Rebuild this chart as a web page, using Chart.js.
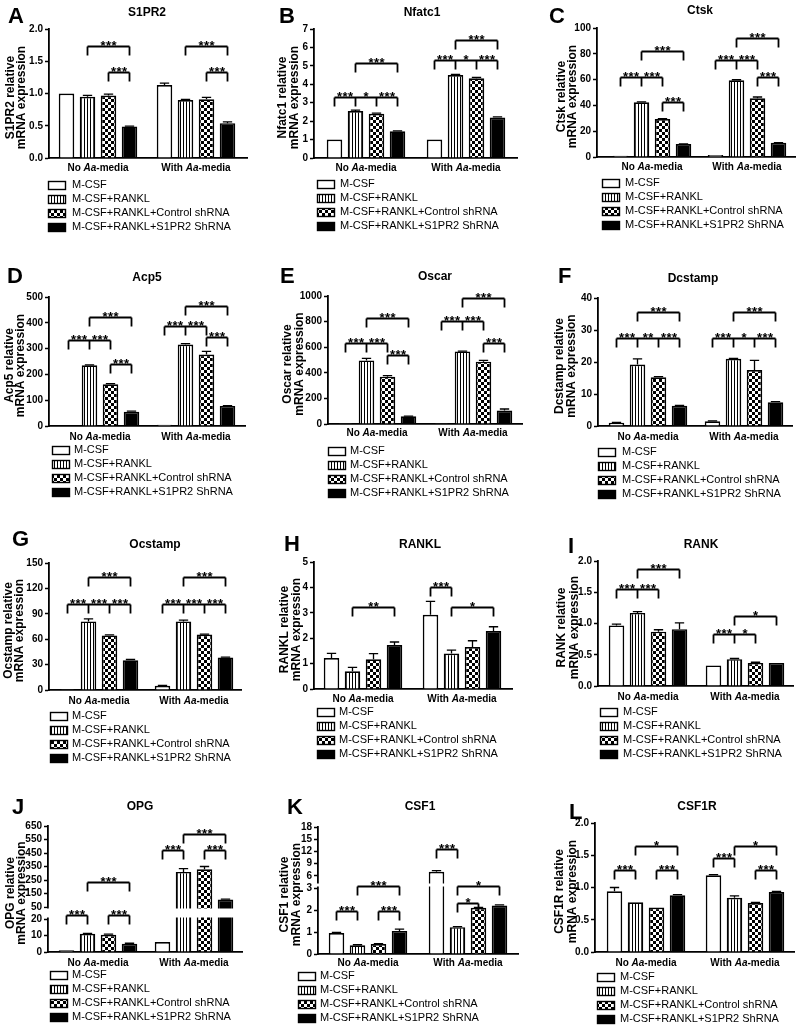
<!DOCTYPE html>
<html>
<head>
<meta charset="utf-8">
<script src="https://cdn.jsdelivr.net/npm/chart.js@4"></script>
<style>
  body { margin: 0; background: #fff; width: 798px; height: 1025px; position: relative; overflow: hidden; }
  canvas { position: absolute; }
</style>
</head>
<body>
<script>
// ---------- shared labels ----------
const groups = ['No Aa-media', 'With Aa-media'];
const treatments = ['M-CSF', 'M-CSF+RANKL', 'M-CSF+RANKL+Control shRNA', 'M-CSF+RANKL+S1PR2 ShRNA'];

// ---------- values: one row per treatment, [No Aa-media, With Aa-media] ----------
// significance rows: [group, bars joined, bracket level, stars]
const s1pr2Ticks = ['0.0', '0.5', '1.0', '1.5', '2.0'];
const s1pr2Mean = [[1.00, 1.13], [0.95, 0.90], [0.97, 0.91], [0.49, 0.54]];
const s1pr2Err = [[0, 0.03], [0.02, 0.01], [0.02, 0.03], [0.005, 0.02]];
const s1pr2Sig = [[0, [1, 3], 1.73, ['***']], [0, [2, 3], 1.34, ['***']], [1, [1, 3], 1.73, ['***']], [1, [2, 3], 1.34, ['***']]];

const nfatc1Ticks = ['0', '1', '2', '3', '4', '5', '6', '7'];
const nfatc1Mean = [[1.0, 1.0], [2.55, 4.50], [2.40, 4.33], [1.45, 2.20]];
const nfatc1Err = [[0, 0], [0.05, 0.04], [0.04, 0.05], [0.02, 0.03]];
const nfatc1Sig = [[0, [0, 1, 2, 3], 3.33, ['***', '*', '***']], [0, [1, 3], 5.14, ['***']], [1, [0, 1, 2, 3], 5.32, ['***', '*', '***']], [1, [1, 3], 6.4, ['***']]];

const ctskTicks = ['0', '20', '40', '60', '80', '100'];
const ctskMean = [[1.0, 1.5], [42.5, 59.5], [29.5, 45.5], [10, 11]];
const ctskErr = [[0, 0], [0.3, 0.4], [0.3, 1.0], [0.2, 0.2]];
const ctskSig = [[0, [0, 1, 2], 62, ['***', '***']], [0, [2, 3], 43, ['***']], [0, [1, 3], 82, ['***']], [1, [0, 1, 2], 75, ['***', '***']], [1, [2, 3], 62, ['***']], [1, [1, 3], 92, ['***']]];

const acp5Ticks = ['0', '100', '200', '300', '400', '500'];
const acp5Mean = [[2, 5], [235, 316], [162, 277], [55, 78]];
const acp5Err = [[0, 0], [2, 3], [2, 12], [3, 1]];
const acp5Sig = [[0, [0, 1, 2], 333, ['***', '***']], [0, [2, 3], 240, ['***']], [0, [1, 3], 424, ['***']], [1, [0, 1, 2], 388, ['***', '***']], [1, [2, 3], 344, ['***']], [1, [1, 3], 465, ['***']]];

const oscarTicks = ['0', '200', '400', '600', '800', '1000'];
const oscarMean = [[1, 1], [497, 567], [370, 487], [60, 105]];
const oscarErr = [[0, 0], [15, 3], [8, 10], [2, 12]];
const oscarSig = [[0, [0, 1, 2], 630, ['***', '***']], [0, [2, 3], 540, ['***']], [0, [1, 3], 826, ['***']], [1, [0, 1, 2], 807, ['***', '***']], [1, [2, 3], 630, ['***']], [1, [1, 3], 982, ['***']]];

const dcstampTicks = ['0', '10', '20', '30', '40'];
const dcstampMean = [[1.0, 1.5], [19.2, 21.0], [15.2, 17.5], [6.3, 7.4]];
const dcstampErr = [[0.1, 0.1], [1.8, 0.1], [0.2, 3.0], [0.1, 0.2]];
const dcstampSig = [[0, [0, 1, 2, 3], 27.4, ['***', '**', '***']], [0, [1, 3], 35.7, ['***']], [1, [0, 1, 2, 3], 27.4, ['***', '*', '***']], [1, [1, 3], 35.7, ['***']]];

const ocstampTicks = ['0', '30', '60', '90', '120', '150'];
const ocstampMean = [[1.0, 5], [81, 81], [64.5, 65.5], [35, 38.5]];
const ocstampErr = [[0, 0.3], [3, 1.5], [0.5, 0.5], [1, 0.3]];
const ocstampSig = [[0, [0, 1, 2, 3], 101, ['***', '***', '***']], [0, [1, 3], 134, ['***']], [1, [0, 1, 2, 3], 101, ['***', '***', '***']], [1, [1, 3], 134, ['***']]];

const ranklTicks = ['0', '1', '2', '3', '4', '5'];
const ranklMean = [[1.22, 2.92], [0.70, 1.40], [1.17, 1.65], [1.73, 2.28]];
const ranklErr = [[0.18, 0.53], [0.15, 0.13], [0.22, 0.25], [0.12, 0.17]];
const ranklSig = [[0, [1, 3], 3.24, ['**']], [1, [0, 1], 4.03, ['***']], [1, [1, 3], 3.24, ['*']]];

const rankTicks = ['0.0', '0.5', '1.0', '1.5', '2.0'];
const rankMean = [[0.97, 0.33], [1.17, 0.43], [0.87, 0.37], [0.91, 0.37]];
const rankErr = [[0.02, 0], [0.02, 0.01], [0.03, 0.01], [0.1, 0]];
const rankSig = [[0, [0, 1, 2], 1.55, ['***', '***']], [0, [1, 3], 1.87, ['***']], [1, [0, 1, 2], 0.84, ['***', '*']], [1, [1, 3], 1.12, ['*']]];

const opgTicks = ['0', '10', '20', '50', '150', '250', '350', '450', '550', '650'];
const opgMean = [[1, 6], [11, 310], [10.5, 330], [5, 105]];
const opgErr = [[0, 0], [0.3, 25], [0.3, 20], [0.3, 3]];
const opgSig = [[0, [0, 1], 30, ['***']], [0, [2, 3], 30, ['***']], [0, [1, 3], 235, ['***']], [1, [0, 1], 472, ['***']], [1, [2, 3], 472, ['***']], [1, [1, 3], 590, ['***']]];

const csf1Ticks = ['0', '1', '2', '3', '6', '9', '12', '15', '18'];
const csf1Mean = [[0.95, 7.0], [0.40, 1.22], [0.45, 2.1], [1.05, 2.2]];
const csf1Err = [[0.03, 0.3], [0.02, 0.02], [0.02, 0.02], [0.08, 0.03]];
const csf1Sig = [[0, [0, 1], 1.97, ['***']], [0, [2, 3], 1.97, ['***']], [0, [1, 3], 3.6, ['***']], [1, [0, 1], 12.7, ['***']], [1, [1, 2], 2.33, ['*']], [1, [1, 3], 3.6, ['*']]];

const csf1rTicks = ['0.0', '0.5', '1.0', '1.5', '2.0'];
const csf1rMean = [[0.94, 1.19], [0.77, 0.84], [0.69, 0.76], [0.88, 0.93]];
const csf1rErr = [[0.06, 0.01], [0, 0.03], [0, 0.01], [0.01, 0.01]];
const csf1rSig = [[0, [0, 1], 1.27, ['***']], [0, [2, 3], 1.27, ['***']], [0, [1, 3], 1.65, ['*']], [1, [0, 1], 1.45, ['***']], [1, [2, 3], 1.27, ['***']], [1, [1, 3], 1.65, ['*']]];

// ---------- panel layout (pixels inside each panel) ----------
const panels = [
  { letter: 'A', gene: 'S1PR2', ticks: s1pr2Ticks, mean: s1pr2Mean, err: s1pr2Err, sig: s1pr2Sig,
    x0: 0, y0: 0, T: 29, B: 158, L: 49, c0: 98, c1: 196, R: 247, catY: 168, legY: 185, boxX: 48, textX: 72,
    titleX: 147, titleY: 13, letterX: 8, letterY: 17, yt: [11, 22] },
  { letter: 'B', gene: 'Nfatc1', ticks: nfatc1Ticks, mean: nfatc1Mean, err: nfatc1Err, sig: nfatc1Sig,
    x0: 265, y0: 0, T: 29, B: 158, L: 49, c0: 101, c1: 201, R: 252, catY: 168, legY: 184, boxX: 52, textX: 75,
    titleX: 157, titleY: 13, letterX: 14, letterY: 17, yt: [18, 30] },
  { letter: 'C', gene: 'Ctsk', ticks: ctskTicks, mean: ctskMean, err: ctskErr, sig: ctskSig,
    x0: 530, y0: 0, T: 28, B: 157, L: 67, c0: 122, c1: 217, R: 265, catY: 167, legY: 183, boxX: 72, textX: 95,
    titleX: 170, titleY: 11, letterX: 19, letterY: 17, yt: [32, 43] },
  { letter: 'D', gene: 'Acp5', ticks: acp5Ticks, mean: acp5Mean, err: acp5Err, sig: acp5Sig,
    x0: 0, y0: 250, T: 47, B: 176, L: 49, c0: 100, c1: 196, R: 245, catY: 187, legY: 200, boxX: 52, textX: 74,
    titleX: 147, titleY: 28, letterX: 7, letterY: 27, yt: [10, 21] },
  { letter: 'E', gene: 'Oscar', ticks: oscarTicks, mean: oscarMean, err: oscarErr, sig: oscarSig,
    x0: 265, y0: 250, T: 46, B: 174, L: 63, c0: 112, c1: 208, R: 257, catY: 183, legY: 201, boxX: 63, textX: 85,
    titleX: 170, titleY: 27, letterX: 15, letterY: 27, yt: [23, 35] },
  { letter: 'F', gene: 'Dcstamp', ticks: dcstampTicks, mean: dcstampMean, err: dcstampErr, sig: dcstampSig,
    x0: 530, y0: 250, T: 48, B: 176, L: 68, c0: 118, c1: 214, R: 262, catY: 187, legY: 202, boxX: 68, textX: 92,
    titleX: 163, titleY: 29, letterX: 28, letterY: 27, yt: [30, 42] },
  { letter: 'G', gene: 'Ocstamp', ticks: ocstampTicks, mean: ocstampMean, err: ocstampErr, sig: ocstampSig,
    x0: 0, y0: 510, T: 53, B: 180, L: 49, c0: 99, c1: 194, R: 241, catY: 191, legY: 206, boxX: 50, textX: 72,
    titleX: 155, titleY: 35, letterX: 12, letterY: 30, yt: [9, 20] },
  { letter: 'H', gene: 'RANKL', ticks: ranklTicks, mean: ranklMean, err: ranklErr, sig: ranklSig,
    x0: 265, y0: 510, T: 52, B: 179, L: 49, c0: 98, c1: 197, R: 247, catY: 189, legY: 202, boxX: 52, textX: 74,
    titleX: 155, titleY: 35, letterX: 19, letterY: 35, yt: [20, 32] },
  { letter: 'I', gene: 'RANK', ticks: rankTicks, mean: rankMean, err: rankErr, sig: rankSig,
    x0: 530, y0: 510, T: 51, B: 176, L: 68, c0: 118, c1: 215, R: 263, catY: 187, legY: 202, boxX: 70, textX: 93,
    titleX: 171, titleY: 35, letterX: 38, letterY: 37, yt: [32, 45] },
  { letter: 'J', gene: 'OPG', ticks: opgTicks, mean: opgMean, err: opgErr, sig: opgSig,
    brk: { lowMax: 20, upMin: 50, lowPx: 149, upPx: 137 },
    x0: 0, y0: 770, T: 56, B: 182, L: 48, c0: 98, c1: 194, R: 242, catY: 193, legY: 205, boxX: 50, textX: 72,
    titleX: 140, titleY: 37, letterX: 12, letterY: 38, yt: [11, 22] },
  { letter: 'K', gene: 'CSF1', ticks: csf1Ticks, mean: csf1Mean, err: csf1Err, sig: csf1Sig,
    brk: { lowMax: 3, upMin: 4.5, lowPx: 118, upPx: 112 },
    x0: 265, y0: 770, T: 57, B: 184, L: 53, c0: 103, c1: 203, R: 253, catY: 193, legY: 206, boxX: 33, textX: 55,
    titleX: 155, titleY: 37, letterX: 22, letterY: 38, yt: [20, 32] },
  { letter: 'L', gene: 'CSF1R', ticks: csf1rTicks, mean: csf1rMean, err: csf1rErr, sig: csf1rSig,
    x0: 530, y0: 770, T: 53, B: 182, L: 65, c0: 116, c1: 215, R: 264, catY: 193, legY: 207, boxX: 67, textX: 90,
    titleX: 167, titleY: 37, letterX: 39, letterY: 43, yt: [30, 43] }
];

const FONT = '"Liberation Sans", Arial, sans-serif';

// y scale with a gap: lower segment [min, lowMax], upper segment [upMin, max]
class BrokenScale extends Chart.LinearScale {
  static id = 'broken';
  static defaults = Chart.LinearScale.defaults;
  fracs() {
    const b = this.options.brk;
    return [(b.B - b.lowPx) / b.full, (b.B - b.upPx) / b.full];
  }
  getPixelForValue(v) {
    const b = this.options.brk, [lowF, upF] = this.fracs();
    let f;
    if (v <= b.lowMax) f = (v - this.min) / (b.lowMax - this.min) * lowF;
    else if (v >= b.upMin) f = upF + (v - b.upMin) / (this.max - b.upMin) * (1 - upF);
    else f = lowF + (v - b.lowMax) / (b.upMin - b.lowMax) * (upF - lowF);
    return this.bottom - f * (this.bottom - this.top);
  }
  getValueForPixel(p) {
    const b = this.options.brk, [lowF, upF] = this.fracs();
    const f = (this.bottom - p) / (this.bottom - this.top);
    if (f <= lowF) return this.min + f / lowF * (b.lowMax - this.min);
    if (f >= upF) return b.upMin + (f - upF) / (1 - upF) * (this.max - b.upMin);
    return b.lowMax + (f - lowF) / (upF - lowF) * (b.upMin - b.lowMax);
  }
}
Chart.register(BrokenScale);

function makePatterns(ctx) {
  const st = document.createElement('canvas');
  st.width = 3; st.height = 3;
  let c = st.getContext('2d');
  c.fillStyle = '#fff'; c.fillRect(0, 0, 3, 3);
  c.fillStyle = '#000'; c.fillRect(0, 0, 1, 3);
  const ck = document.createElement('canvas');
  ck.width = 6; ck.height = 6;
  c = ck.getContext('2d');
  c.fillStyle = '#fff'; c.fillRect(0, 0, 6, 6);
  c.fillStyle = '#000'; c.fillRect(0, 0, 3, 3); c.fillRect(3, 3, 3, 3);
  return ['#ffffff', ctx.createPattern(st, 'repeat'), ctx.createPattern(ck, 'repeat'), '#000000'];
}

function drawMixed(ctx, text, x, y) {
  // "Aa" in italics, centred on x
  const parts = text.split('Aa');
  const segs = [[parts[0], 'bold'], ['Aa', 'italic bold'], [parts[1], 'bold']];
  let w = 0;
  segs.forEach(s => { ctx.font = s[1] + ' 10px ' + FONT; w += ctx.measureText(s[0]).width; });
  let cx = x - w / 2;
  ctx.textAlign = 'left';
  segs.forEach(s => { ctx.font = s[1] + ' 10px ' + FONT; ctx.fillText(s[0], cx, y); cx += ctx.measureText(s[0]).width; });
}

const decor = {
  id: 'decor',
  afterDatasetsDraw(chart, args, o) {
    const p = o.panel, ctx = chart.ctx, ys = chart.scales.y, area = chart.chartArea;
    ctx.save();
    // broken axis gap
    if (p.brk) {
      const a = ys.getPixelForValue(p.brk.upMin), b = ys.getPixelForValue(p.brk.lowMax);
      ctx.fillStyle = '#fff';
      ctx.fillRect(area.left - 6, a + 1.5, area.right - area.left + 8, b - a - 3);
    }
    // error bars (upper only)
    ctx.strokeStyle = '#000';
    ctx.lineWidth = 1.3;
    chart.data.datasets.forEach((ds, di) => {
      chart.getDatasetMeta(di).data.forEach((bar, gi) => {
        const e = p.err[di][gi];
        if (!e) return;
        const top = ys.getPixelForValue(ds.data[gi].y + e);
        const cap = bar.width * 0.3;
        ctx.beginPath();
        ctx.moveTo(bar.x, bar.y);
        ctx.lineTo(bar.x, top);
        ctx.moveTo(bar.x - cap, top);
        ctx.lineTo(bar.x + cap, top);
        ctx.stroke();
      });
    });
    // significance brackets
    ctx.lineWidth = 1.8;
    ctx.fillStyle = '#000';
    p.sig.forEach(([g, legs, level, stars]) => {
      const xs = legs.map(k => chart.getDatasetMeta(k).data[g].x);
      const ly = Math.round(ys.getPixelForValue(level)) + 0.5;
      ctx.beginPath();
      ctx.moveTo(xs[0], ly);
      ctx.lineTo(xs[xs.length - 1], ly);
      xs.forEach(x => { ctx.moveTo(x, ly); ctx.lineTo(x, ly + 9); });
      ctx.stroke();
      ctx.font = 'bold 13px ' + FONT;
      ctx.textAlign = 'center';
      ctx.textBaseline = 'alphabetic';
      stars.forEach((s, i) => {
        const mid = (xs[i] + xs[i + 1]) / 2;
        const n = s.length;
        for (let j = 0; j < n; j++) ctx.fillText('*', mid + (j - (n - 1) / 2) * 5.5, ly + 3);
      });
    });
    ctx.restore();
  },
  afterDraw(chart, args, o) {
    const p = o.panel, ctx = chart.ctx, xs = chart.scales.x;
    ctx.save();
    ctx.fillStyle = '#000';
    // panel letter
    ctx.font = 'bold 22px ' + FONT;
    ctx.textAlign = 'left';
    ctx.textBaseline = 'middle';
    ctx.fillText(p.letter, p.letterX, p.letterY);
    // title
    ctx.font = 'bold 12px ' + FONT;
    ctx.textAlign = 'center';
    ctx.fillText(p.gene, p.titleX, p.titleY);
    // y title, two lines
    const midY = (p.T + p.B) / 2 + 4;
    ctx.font = 'bold 12px ' + FONT;
    [p.gene + ' relative', 'mRNA expression'].forEach((t, i) => {
      ctx.save();
      ctx.translate(p.yt[i], midY);
      ctx.rotate(-Math.PI / 2);
      ctx.fillText(t, 0, 0);
      ctx.restore();
    });
    // category labels
    ctx.textBaseline = 'middle';
    groups.forEach((g, i) => drawMixed(ctx, g, xs.getPixelForValue(i), p.catY));
    // legend
    chart.data.datasets.forEach((ds, i) => {
      const y = p.legY + i * 14;
      ctx.fillStyle = ds.backgroundColor;
      ctx.fillRect(p.boxX, y - 4, 18, 9);
      ctx.strokeStyle = '#000';
      ctx.lineWidth = 1.4;
      ctx.strokeRect(p.boxX + 0.5, y - 3.5, 17, 8);
      ctx.fillStyle = '#000';
      ctx.font = '11px ' + FONT;
      ctx.textAlign = 'left';
      ctx.fillText(ds.label, p.textX, y);
    });
    ctx.restore();
  }
};

panels.forEach(p => {
  const W = p.x0 === 530 ? 268 : 266;
  const H = p.y0 === 770 ? 255 : 260;
  const cv = document.createElement('canvas');
  cv.width = W; cv.height = H;
  cv.style.left = p.x0 + 'px';
  cv.style.top = p.y0 + 'px';
  document.body.appendChild(cv);
  const fills = makePatterns(cv.getContext('2d'));
  const unit = p.c1 - p.c0;
  const tickVals = p.ticks.map(Number);
  if (p.brk) { p.brk.full = p.B - p.T; p.brk.B = p.B; }

  const yScale = {
    type: p.brk ? 'broken' : 'linear',
    min: tickVals[0],
    max: tickVals[tickVals.length - 1],
    afterBuildTicks: s => { s.ticks = tickVals.map(v => ({ value: v })); },
    afterFit: s => { s.width = p.L; },
    ticks: { font: { family: FONT, size: 10, weight: 'bold' }, color: '#000', padding: 2, autoSkip: false,
             callback: (v, i) => p.ticks[i] },
    grid: { drawOnChartArea: false, drawTicks: true, tickLength: 4, tickWidth: 1.5, color: '#000' },
    border: { display: true, color: '#000', width: 1.8 }
  };
  if (p.brk) yScale.brk = p.brk;

  new Chart(cv, {
    type: 'bar',
    data: {
      datasets: treatments.map((t, s) => ({
        label: t,
        data: p.mean[s].map((v, i) => ({ x: i, y: v })),
        backgroundColor: fills[s],
        borderColor: '#000',
        borderWidth: 1.7,
        categoryPercentage: 84 / unit,
        barPercentage: 0.74
      }))
    },
    options: {
      responsive: false,
      animation: false,
      events: [],
      layout: { padding: { left: 0, top: p.T, right: W - p.R, bottom: H - p.B } },
      scales: {
        x: {
          type: 'linear',
          offset: false,
          min: (p.L - p.c0) / unit,
          max: (p.R - p.c0) / unit,
          afterBuildTicks: s => { s.ticks = [{ value: 0 }, { value: 1 }]; },
          afterFit: s => { s.height = 0; },
          ticks: { display: false },
          grid: { offset: false, drawOnChartArea: false, drawTicks: false },
          border: { display: true, color: '#000', width: 1.8 }
        },
        y: yScale
      },
      plugins: { legend: { display: false }, tooltip: { enabled: false }, title: { display: false },
                 decor: { panel: p } }
    },
    plugins: [decor]
  });
});
</script>
</body>
</html>
